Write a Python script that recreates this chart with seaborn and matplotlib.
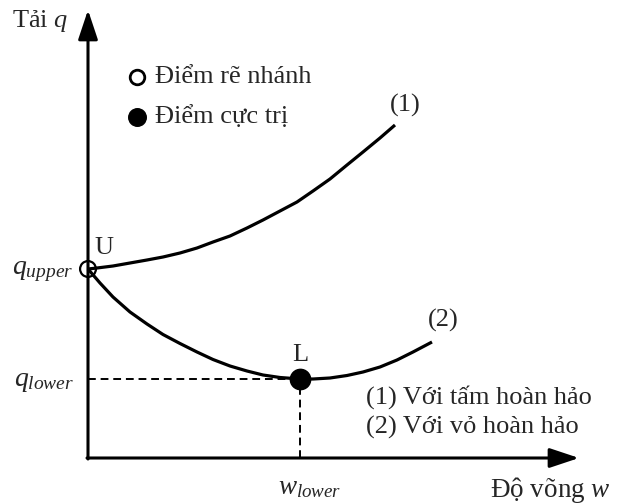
import matplotlib
matplotlib.use("Agg")
import matplotlib.pyplot as plt
import seaborn as sns
import pandas as pd

# Load-deflection curve (1): perfect plate
w_plate = [0.00, 0.09, 0.25, 0.42, 0.59, 0.75, 0.92, 1.09, 1.25, 1.42,
           1.59, 1.75, 1.92, 2.09, 2.25, 2.42, 2.59, 2.75, 2.92, 3.07]
q_plate = [1.89, 1.90, 1.92, 1.95, 1.98, 2.01, 2.05, 2.10, 2.16, 2.22,
           2.30, 2.38, 2.47, 2.56, 2.67, 2.79, 2.93, 3.06, 3.20, 3.33]

# Load-deflection curve (2): perfect shell
w_shell = [0.00, 0.12, 0.25, 0.42, 0.59, 0.75, 0.92, 1.09, 1.25, 1.42, 1.59,
           1.75, 1.92, 2.12, 2.25, 2.42, 2.59, 2.75, 2.92, 3.09, 3.25, 3.44]
q_shell = [1.89, 1.75, 1.61, 1.46, 1.34, 1.235, 1.145, 1.06, 0.985, 0.92, 0.87,
           0.83, 0.805, 0.79, 0.79, 0.80, 0.825, 0.86, 0.91, 0.98, 1.06, 1.16]

# Special points
w_upper, q_upper = 0.00, 1.89   # bifurcation point U
w_lower, q_lower = 2.12, 0.79   # limit point L

curve_labels = ["(1)", "(2)"]
legend_labels = ["Điểm rẽ nhánh", "Điểm cực trị"]
note_labels = ["(1) Với tấm hoàn hảo", "(2) Với vỏ hoàn hảo"]

sns.set_theme(style="white")
plt.rcParams["font.family"] = ["Liberation Serif", "DejaVu Serif"]
plt.rcParams["mathtext.fontset"] = "custom"
plt.rcParams["mathtext.rm"] = "Liberation Serif"
plt.rcParams["mathtext.it"] = "Liberation Serif:italic"

fig = plt.figure(figsize=(6.17, 5.04), dpi=100)
ax = fig.add_axes([0, 0, 1, 1])
ax.set_xlim(-0.88, 5.29)
ax.set_ylim(-0.46, 4.58)
ax.axis("off")

df = pd.concat([
    pd.DataFrame({"w": w_plate, "q": q_plate, "curve": curve_labels[0]}),
    pd.DataFrame({"w": w_shell, "q": q_shell, "curve": curve_labels[1]}),
])
sns.lineplot(data=df, x="w", y="q", units="curve", estimator=None, sort=False,
             color="black", linewidth=2.3, ax=ax, legend=False,
             solid_joinstyle="round", solid_capstyle="butt")

# Coordinate axes with arrow heads
arrow = dict(arrowstyle="-|>,head_length=0.9,head_width=0.3", lw=2.2,
             color="black", mutation_scale=20, shrinkA=0, shrinkB=0)
ax.annotate("", xy=(4.91, 0), xytext=(-0.01, 0), arrowprops=arrow)
ax.annotate("", xy=(0, 4.48), xytext=(0, -0.01), arrowprops=arrow)

# Guide lines to the limit point
ax.plot([0, w_lower], [q_lower, q_lower], color="black", lw=1.4, ls=(0, (4, 2.5)))
ax.plot([w_lower, w_lower], [0, q_lower], color="black", lw=1.4, ls=(0, (4, 2.5)))

# U and L markers
sns.scatterplot(x=[w_upper], y=[q_upper], s=130, facecolor="none",
                edgecolor="black", linewidth=1.6, ax=ax, zorder=5)
sns.scatterplot(x=[w_lower], y=[q_lower], s=210, color="black",
                edgecolor="black", ax=ax, zorder=5)

fs = 19
ax.text(0.16, 2.10, "U", fontsize=fs, ha="center", va="center")
ax.text(w_lower, 1.03, "L", fontsize=fs, ha="center", va="center")
ax.text(3.17, 3.53, curve_labels[0], fontsize=fs, ha="center", va="center")
ax.text(3.55, 1.38, curve_labels[1], fontsize=fs, ha="center", va="center")

# Legend of point symbols
ax.scatter([0.49], [3.81], s=110, facecolor="white", edgecolor="black", lw=2.0, zorder=5)
ax.scatter([0.49], [3.41], s=160, color="black", zorder=5)
ax.text(0.67, 3.81, legend_labels[0], fontsize=fs, ha="left", va="center")
ax.text(0.67, 3.41, legend_labels[1], fontsize=fs, ha="left", va="center")

# Curve descriptions
ax.text(2.78, 0.61, note_labels[0], fontsize=fs, ha="left", va="center")
ax.text(2.78, 0.31, note_labels[1], fontsize=fs, ha="left", va="center")

# Axis titles and tick-like labels
ax.text(-0.20, 4.37, "Tải $q$", fontsize=fs, ha="right", va="center")
ax.text(4.02, -0.32, "Độ võng $w$", fontsize=19.5, ha="left", va="center")
ax.text(-0.15, q_upper - 0.03, "$q_{upper}$", fontsize=20, ha="right", va="center")
ax.text(-0.14, q_lower - 0.03, "$q_{lower}$", fontsize=20, ha="right", va="center")
ax.text(w_lower + 0.10, -0.30, "$w_{lower}$", fontsize=19.5, ha="center", va="center")

fig.savefig("out.png", dpi=100, facecolor="white")
